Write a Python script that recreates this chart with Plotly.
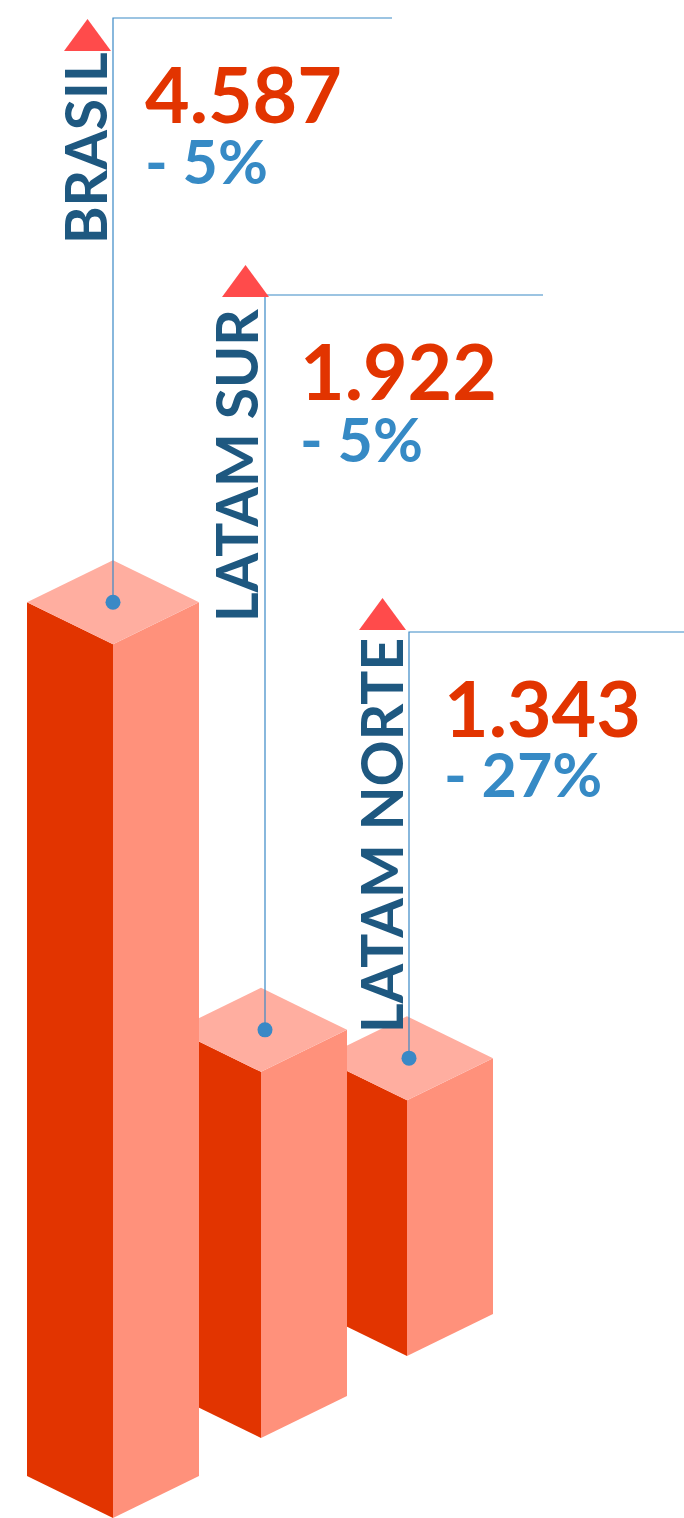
import plotly.graph_objects as go

# data
regions = ["BRASIL", "LATAM SUR", "LATAM NORTE"]
values = [4587, 1922, 1343]
value_labels = ["4.587", "1.922", "1.343"]
change_labels = ["- 5%", "- 5%", "- 27%"]

# layout (pixel space, y grows downward)
W, H = 684, 1518
PX_PER_UNIT = 0.1905          # bar height scale
HALF_W = 86                   # half width of an isometric bar
DIAMOND = 42                  # half height of the top diamond
bar_cx = [113, 261, 407]      # x of the front edge
bar_base = [1518, 1438, 1356] # y of the front-bottom corner
leader_x = [113, 265, 409]
leader_y = [18, 295, 632]
leader_end = [392, 543, 684]
tri_cx = [87.5, 245.5, 382.5]
tri_base = [51, 297, 630]
label_x = [85, 236, 381]
label_y = [148, 466, 836]
value_x = [143, 298, 442]
value_y = [93, 370, 707]
change_y = [160, 438, 773]

LEFT_FACE = "#e23400"
RIGHT_FACE = "#ff917b"
TOP_FACE = "#ffaea0"
LINE = "#3a89c6"
VALUE_COL = "#e23400"
CHANGE_COL = "#368ac5"
LABEL_COL = "#1e5880"
TRI_COL = "#ff4b4b"
FONT = "Lato"

fig = go.Figure()


def poly(xs, ys, color):
    fig.add_trace(go.Scatter(
        x=xs + [xs[0]], y=ys + [ys[0]], mode="lines", fill="toself",
        fillcolor=color, line=dict(width=0, color=color),
        hoverinfo="skip", showlegend=False,
    ))


# draw back to front so the front bars cover the ones behind
for i in reversed(range(len(values))):
    cx, base = bar_cx[i], bar_base[i]
    top = base - values[i] * PX_PER_UNIT
    poly([cx - HALF_W, cx, cx, cx - HALF_W],
         [base - DIAMOND, base, top, top - DIAMOND], LEFT_FACE)
    poly([cx, cx + HALF_W, cx + HALF_W, cx],
         [base, base - DIAMOND, top - DIAMOND, top], RIGHT_FACE)
    poly([cx, cx - HALF_W, cx, cx + HALF_W],
         [top, top - DIAMOND, top - 2 * DIAMOND, top - DIAMOND], TOP_FACE)

    # leader line from the top face up and to the right
    dot_y = top - DIAMOND
    fig.add_trace(go.Scatter(
        x=[leader_x[i], leader_x[i], leader_end[i]],
        y=[dot_y, leader_y[i], leader_y[i]],
        mode="lines", line=dict(color=LINE, width=1.2),
        hoverinfo="skip", showlegend=False,
    ))
    fig.add_trace(go.Scatter(
        x=[leader_x[i]], y=[dot_y], mode="markers",
        marker=dict(color=LINE, size=15, line=dict(width=0)),
        hoverinfo="skip", showlegend=False,
    ))

shapes = []
annotations = []
for i, name in enumerate(regions):
    tx, tb = tri_cx[i], tri_base[i]
    shapes.append(dict(
        type="path", xref="x", yref="y",
        path=f"M {tx - 23.5} {tb} L {tx} {tb - 32} L {tx + 23.5} {tb} Z",
        fillcolor=TRI_COL, line=dict(width=0),
    ))
    annotations.append(dict(
        x=label_x[i], y=label_y[i], text=name, textangle=-90,
        xanchor="center", yanchor="middle", showarrow=False,
        font=dict(family=FONT, size=57, color=LABEL_COL, weight=700),
    ))
    annotations.append(dict(
        x=value_x[i], y=value_y[i], text=value_labels[i],
        xanchor="left", yanchor="middle", showarrow=False,
        font=dict(family=FONT, size=77, color=VALUE_COL, weight=700),
    ))
    annotations.append(dict(
        x=value_x[i], y=change_y[i], text=change_labels[i],
        xanchor="left", yanchor="middle", showarrow=False,
        font=dict(family=FONT, size=61, color=CHANGE_COL, weight=700),
    ))

fig.update_layout(
    width=W, height=H,
    margin=dict(l=0, r=0, t=0, b=0),
    paper_bgcolor="white", plot_bgcolor="white",
    xaxis=dict(range=[0, W], visible=False, fixedrange=True),
    yaxis=dict(range=[H, 0], visible=False, fixedrange=True),
    shapes=shapes, annotations=annotations,
    showlegend=False,
)

# page body has a default 8px margin; drop it so the chart fills the window
fig.write_html("out.html", config={"displayModeBar": False},
               post_script="document.body.style.margin='0';")
